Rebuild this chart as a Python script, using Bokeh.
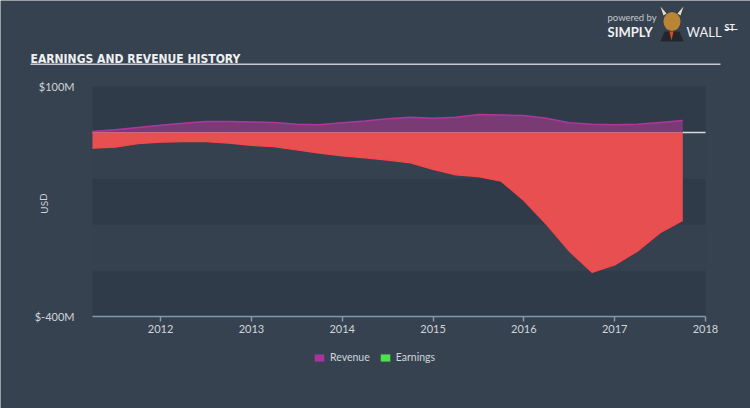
from bokeh.plotting import figure
from bokeh.models import (Range1d, FixedTicker, Legend, LegendItem, Label,
                          LinearAxis)
from bokeh.embed import file_html
from bokeh.resources import INLINE

# ---------------- data ----------------
quarters = [2011.25, 2011.5, 2011.75, 2012.0, 2012.25, 2012.5, 2012.75,
            2013.0, 2013.25, 2013.5, 2013.75, 2014.0, 2014.25, 2014.5,
            2014.75, 2015.0, 2015.25, 2015.5, 2015.75, 2016.0, 2016.25,
            2016.5, 2016.75, 2017.0, 2017.25, 2017.5, 2017.75]
revenue = [2, 6, 11, 16, 20, 24, 24, 23, 22, 18, 17, 21, 25, 30,
           33, 31, 33, 39, 38, 37, 31, 21, 18, 17, 18, 22, 26]
earnings = [-34, -32, -24, -21, -20, -20, -23, -28, -31, -38, -45, -51,
            -55, -60, -66, -80, -92, -96, -106, -148, -200, -258, -304,
            -288, -258, -218, -191]
x_ticks = [2012, 2013, 2014, 2015, 2016, 2017, 2018]
x_tick_labels = ["2012", "2013", "2014", "2015", "2016", "2017", "2018"]
y_ticks = [-400, 100]
y_tick_labels = ["$-400M", "$100M"]
band_edges = [-400, -300, -200, -100, 0, 100]
series_names = ["Revenue", "Earnings"]
title_text = "EARNINGS AND REVENUE HISTORY"
y_axis_title = "USD"

# ---------------- layout / style ----------------
W, H = 750, 408
FL, FR, FT, FB = 92, 705, 86, 316      # plot-area box in canvas pixels
X0, X1 = 2011.25, 2018.0               # plot-area data extent
Y0, Y1 = -400, 100

BG = "#36424f"
DARK = "#2f3b49"
LIGHT = "#35414f"
TXT = "#cfd5db"
FONT = "Lato"
NAN = float("nan")

XS = (FR - FL) / (X1 - X0)
YS = (FB - FT) / (Y1 - Y0)


def px2x(px):
    return X0 + (px - FL) / XS


def px2y(py):
    return Y1 - (py - FT) / YS


p = figure(width=W, height=H,
           x_range=Range1d(px2x(0), px2x(W)), y_range=Range1d(px2y(H), px2y(0)),
           output_backend="svg", toolbar_location=None,
           x_axis_location=None, y_axis_location=None, min_border=0,
           background_fill_color=BG, border_fill_color=BG,
           outline_line_color=None)
p.title.visible = False
p.grid.visible = False

# plot-area bands (alternating, from the band edges)
lo = band_edges[:-1]
hi = band_edges[1:]
band_cols = [DARK if i % 2 == 0 else LIGHT for i in range(len(lo))]
p.quad(left=X0, right=X1, bottom=lo, top=hi, fill_color=band_cols,
       line_color=None)

# zero line
p.line(x=[X0, X1], y=[0, 0], line_color="#d5dadf", line_width=1.5)

# areas
p.varea(x=quarters, y1=0, y2=revenue, fill_color="#7a3a74", fill_alpha=1.0)
p.line(quarters, revenue, line_color="#b0369f", line_width=1.5)
p.varea(x=quarters, y1=0, y2=earnings, fill_color="#e84f50", fill_alpha=1.0)
p.line(quarters, earnings, line_color="#f7484b", line_width=1.2)

# axes placed at the plot-area edges
xa = LinearAxis(fixed_location=Y0, bounds=(X0, X1),
                ticker=FixedTicker(ticks=x_ticks))
xa.major_label_overrides = {t: l for t, l in zip(x_ticks, x_tick_labels)}
xa.axis_line_color = "#8796a8"
xa.axis_line_width = 1.5
xa.major_tick_line_color = "#8796a8"
xa.major_tick_line_width = 1.5
xa.major_tick_in = 0
xa.major_tick_out = 5
xa.minor_tick_line_color = None
xa.major_label_standoff = 3
xa.major_label_text_font = FONT
xa.major_label_text_font_size = "11px"
xa.major_label_text_color = TXT
p.add_layout(xa, "below")

ya = LinearAxis(fixed_location=X0, ticker=FixedTicker(ticks=y_ticks))
ya.major_label_overrides = {t: l for t, l in zip(y_ticks, y_tick_labels)}
ya.axis_line_color = None
ya.major_tick_line_color = None
ya.minor_tick_line_color = None
ya.major_label_standoff = 12
ya.major_label_text_font = FONT
ya.major_label_text_font_size = "11px"
ya.major_label_text_color = TXT
p.add_layout(ya, "left")

p.add_layout(Label(x=px2x(43), y=px2y(203), text=y_axis_title, angle=1.5708,
                   text_font=FONT, text_font_size="10px", text_color=TXT,
                   text_align="center", text_baseline="middle"))

# legend (swatch colours as in the reference; swatch renderers hold no points)
sw_rev = p.quad(left=[NAN], right=[NAN], top=[NAN], bottom=[NAN],
                fill_color="#a8359d", line_color=None)
sw_earn = p.quad(left=[NAN], right=[NAN], top=[NAN], bottom=[NAN],
                 fill_color="#4ee04e", line_color=None)
legend = Legend(items=[LegendItem(label=series_names[0], renderers=[sw_rev]),
                       LegendItem(label=series_names[1], renderers=[sw_earn])],
                orientation="horizontal", location=(313, 45),
                glyph_width=12, glyph_height=9, label_standoff=5, spacing=9,
                padding=0, margin=0, label_height=9,
                label_text_font=FONT, label_text_font_size="10.5px",
                label_text_color=TXT, background_fill_alpha=0,
                border_line_color=None)
p.add_layout(legend)

# title and rule
p.add_layout(Label(x=px2x(30), y=px2y(58), text=title_text,
                   text_font="DejaVu Sans Condensed", text_font_style="bold",
                   text_font_size="12px", text_color="#eef0f2",
                   text_baseline="alphabetic", text_align="left"))
p.segment(x0=[px2x(30)], y0=[px2y(63.8)], x1=[px2x(720)], y1=[px2y(63.8)],
          line_color="#c3c9cf", line_width=1.5)

# logo
p.add_layout(Label(x=px2x(607), y=px2y(17), text="powered by", text_font=FONT,
                   text_font_size="9.5px", text_color="#c3c9cf",
                   text_baseline="alphabetic"))
p.add_layout(Label(x=px2x(607), y=px2y(31), text="SIMPLY", text_font=FONT,
                   text_font_style="bold", text_font_size="13px",
                   text_color="#eef0f2", text_baseline="alphabetic"))
p.add_layout(Label(x=px2x(686), y=px2y(31), text="WALL", text_font=FONT,
                   text_font_size="13px", text_color="#eef0f2",
                   text_baseline="alphabetic"))
p.add_layout(Label(x=px2x(724), y=px2y(26.5), text="ST", text_font=FONT,
                   text_font_style="bold", text_font_size="9px",
                   text_color="#eef0f2", text_baseline="alphabetic"))
p.segment(x0=[px2x(724)], y0=[px2y(29)], x1=[px2x(737)], y1=[px2y(29)],
          line_color="#eef0f2", line_width=1)
# simple bull-head mark
p.patch(x=[px2x(v) for v in (660, 683, 679, 664)],
        y=[px2y(v) for v in (41, 41, 31, 31)], fill_color="#23272d",
        line_color=None)
p.patch(x=[px2x(v) for v in (669, 673, 671)],
        y=[px2y(v) for v in (31, 31, 40)], fill_color="#e04a2a",
        line_color=None)
p.ellipse(x=[px2x(671.5)], y=[px2y(21)], width=[17 / XS], height=[19 / YS],
          fill_color="#b98434", line_color=None)
p.patch(x=[px2x(v) for v in (663, 660, 666)],
        y=[px2y(v) for v in (15, 6, 13)], fill_color="#e6dcc4", line_color=None)
p.patch(x=[px2x(v) for v in (680, 683, 677)],
        y=[px2y(v) for v in (15, 6, 13)], fill_color="#e6dcc4", line_color=None)

open("out.html", "w").write(file_html(p, INLINE))
